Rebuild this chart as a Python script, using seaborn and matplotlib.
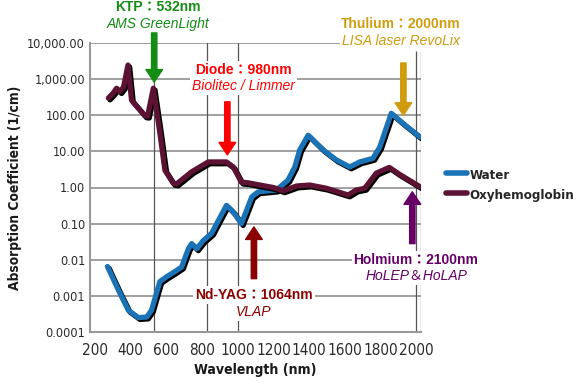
import matplotlib
matplotlib.use("Agg")
import matplotlib.pyplot as plt
import matplotlib.patheffects as pe
from matplotlib import font_manager
from matplotlib.lines import Line2D
import seaborn as sns
import pandas as pd

# Absorption spectra (wavelength in nm, 1/cm)
water_wl = [270, 331, 387, 443, 490, 517, 545, 564, 602, 648, 686, 723, 742, 770,
            807, 854, 891, 937, 975, 1021, 1079, 1115, 1217, 1282, 1320, 1348, 1395,
            1479, 1553, 1628, 1684, 1758, 1796, 1861, 1926, 2022]
water_abs = [0.0065, 0.00145, 0.0004, 0.00025, 0.00026, 0.0004, 0.0012, 0.0025, 0.0034,
             0.0047, 0.0063, 0.020, 0.028, 0.020, 0.034, 0.054, 0.12, 0.32, 0.21, 0.10,
             0.55, 0.76, 0.85, 1.6, 3.7, 11, 28, 11, 5.8, 3.7, 5.1, 6.4, 13, 113, 60, 25]

oxy_wl = [275, 300, 321, 340, 360, 385, 405, 452, 480, 495, 527, 545, 564, 592, 639,
          657, 741, 835, 937, 975, 1021, 1058, 1124, 1199, 1255, 1330, 1404, 1498,
          1619, 1665, 1712, 1777, 1850, 1908, 2022]
oxy_abs = [300, 400, 560, 450, 600, 2450, 260, 140, 96, 94, 560, 140, 32, 3.0, 1.3,
           1.25, 2.7, 5.1, 5.1, 3.7, 1.4, 1.35, 1.17, 1.0, 0.81, 1.1, 1.17, 0.95, 0.62,
           0.85, 0.95, 2.5, 3.6, 2.3, 1.05]

x_ticks = list(range(200, 2001, 200))
y_ticks = [1e-4, 1e-3, 1e-2, 1e-1, 1, 10, 100, 1000, 10000]
y_ticklabels = ["0.0001", "0.001", "0.01", "0.10", "1.00", "10.00", "100.00",
                "1,000.00", "10,000.00"]
ref_lines = [532, 830, 1000]

# laser annotations: (title, subtitle, colour, text x, title y, subtitle y, arrow x, tail y, tip y)
lasers = [
    ("KTP\uff1a532nm", "AMS GreenLight", "#128c12", 553, 1.0e5, 3.4e4, 532, 1.9e4, 830),
    ("Diode\uff1a980nm", "Biolitec / Limmer", "#ff0000", 1035, 1780, 650, 942, 235, 8.0),
    ("Thulium\uff1a2000nm", "LISA laser RevoLix", "#d09b0c", 1914, 3.4e4, 1.14e4, 1929, 2800, 100),
    ("Holmium\uff1a2100nm", "HoLEP\uff06HoLAP", "#660066", 2000, 0.010, 0.0036, 1979, 0.028, 0.76),
    ("Nd-YAG\uff1a1064nm", "VLAP", "#8b0000", 1091, 0.00105, 0.00036, 1091, 0.003, 0.081),
]

water_color = "#1a73b6"
oxy_color = "#5c1232"

sns.set_style("white")
ann_font = ["Liberation Sans", "Noto Sans CJK JP", "DejaVu Sans"]

# the reference uses a condensed face; take one if installed, else Roboto
cond = [f for f in font_manager.fontManager.ttflist
        if "condensed" in str(f.stretch).lower() or "Narrow" in f.name
        or "Condensed" in f.name]
if cond:
    face = cond[0].name
    stretch = str(cond[0].stretch)
else:
    face, stretch = "Roboto", "normal"
plt.rcParams["font.family"] = [face, "DejaVu Sans"]
axis_font = {"family": [face, "DejaVu Sans"], "stretch": stretch}

fig = plt.figure(figsize=(5.79, 3.84), dpi=100)
ax = fig.add_axes([90 / 579, 52 / 384, 330.7 / 579, 289 / 384])

water = pd.DataFrame({"wl": water_wl, "abs": water_abs})
oxy = pd.DataFrame({"wl": oxy_wl, "abs": oxy_abs})
shadow = [pe.SimpleLineShadow(offset=(1.2, -1.3), shadow_color="black", alpha=1.0),
          pe.Normal()]
sns.lineplot(data=water, x="wl", y="abs", color=water_color, lw=3.8, sort=False,
             estimator=None, ax=ax, path_effects=shadow, zorder=4)
sns.lineplot(data=oxy, x="wl", y="abs", color=oxy_color, lw=3.8, sort=False,
             estimator=None, ax=ax, path_effects=shadow, zorder=4)

ax.set_yscale("log")
ax.set_xlim(172, 2026)
ax.set_ylim(1e-4, 1e4)
ax.set_xticks(x_ticks)
ax.set_yticks(y_ticks)
ax.set_yticklabels(y_ticklabels)
ax.minorticks_off()
ax.tick_params(length=0, colors="#2a2a2a")
ax.tick_params(axis="x", pad=8)
ax.tick_params(axis="y", pad=3.5)
for lab in ax.get_xticklabels() + ax.get_yticklabels():
    lab.set_fontstretch(stretch)
ax.grid(False)
for yv in y_ticks:
    ax.axhline(yv, color="#999999", lw=1.3, zorder=1)
for xv in ref_lines:
    ax.axvline(xv, color="#555555", lw=0.9, zorder=1)
ax.vlines([2000, 2026], 1e-4, 6000, color="#555555", lw=0.9, zorder=1)

for side in ["top", "right"]:
    ax.spines[side].set_visible(False)
for side in ["left", "bottom"]:
    ax.spines[side].set_color("#999999")
    ax.spines[side].set_linewidth(1.5)

xl = ax.set_xlabel("Wavelength (nm)", fontsize=12, fontweight="bold",
                   color="#1a1a1a", **axis_font)
yl = ax.set_ylabel("Absorption Coefficient (1/cm)", fontsize=12, fontweight="bold",
                   color="#1a1a1a", **axis_font)
ax.xaxis.set_label_coords(0.5, -0.108)
ax.yaxis.set_label_coords(-0.205, 0.5)

for title, sub, col, tx, ty1, ty2, axx, tail, tip in lasers:
    box = dict(facecolor="white", edgecolor="none", pad=1.5)
    ax.text(tx, ty1, title, color=col, fontsize=10, fontweight="bold", family=ann_font,
            ha="center", va="center", bbox=box, zorder=5, clip_on=False)
    ax.text(tx, ty2, sub, color=col, fontsize=10, style="italic", family=ann_font,
            ha="center", va="center", bbox=box, zorder=5, clip_on=False)
    ax.annotate("", xy=(axx, tip), xytext=(axx, tail), annotation_clip=False, zorder=6,
                arrowprops=dict(arrowstyle="simple,head_length=0.75,head_width=1.0,tail_width=0.32",
                                color=col, shrinkA=0, shrinkB=0, mutation_scale=12))

handles = [Line2D([], [], color=water_color, lw=4),
           Line2D([], [], color=oxy_color, lw=4)]
leg = ax.legend(handles, ["Water", "Oxyhemoglobin"], loc="center left",
                bbox_to_anchor=(1.075, 0.51), frameon=False,
                prop={"family": [face, "DejaVu Sans"], "weight": "bold",
                      "stretch": stretch, "size": 12},
                handlelength=1.3, handletextpad=0.15, labelspacing=0.3,
                borderpad=0, borderaxespad=0)

# scale the label fonts so their lengths match the reference (pixels)
fig.canvas.draw()
rend = fig.canvas.get_renderer()


def scale_for(txt, target, vertical=False):
    box = txt.get_window_extent(rend)
    return target / (box.height if vertical else box.width)


xl.set_fontsize(xl.get_fontsize() * scale_for(xl, 122))
yl.set_fontsize(yl.get_fontsize() * scale_for(yl, 205, vertical=True))
leg_size = 12 * scale_for(leg.get_texts()[1], 104)
for t in leg.get_texts():
    t.set_fontsize(leg_size)
ylab = ax.get_yticklabels()[-1]
y_size = ylab.get_fontsize() * scale_for(ylab, 58)
xlab = ax.get_xticklabels()[4]
x_size = xlab.get_fontsize() * scale_for(xlab, 35)
for lab in ax.get_yticklabels():
    lab.set_fontsize(y_size)
for lab in ax.get_xticklabels():
    lab.set_fontsize(x_size)

fig.savefig("out.png", dpi=100)
